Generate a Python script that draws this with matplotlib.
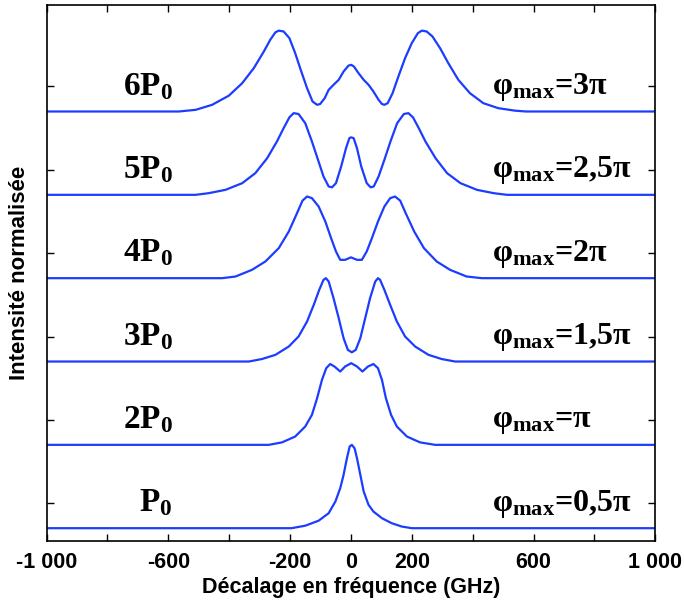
import matplotlib
matplotlib.use("Agg")
from matplotlib import pyplot as plt

plt.rcParams['mathtext.default'] = 'regular'

# frequency shift (GHz) and normalised intensity
p1_x = [-1000, -195, -150, -106, -73, -51, -35, -24, -13, -4, 3, 12, 20, 31, 42, 58, 74, 102, 134, 167, 200, 1000]
p1_y = [0, 0, 0.03, 0.09, 0.18, 0.32, 0.48, 0.64, 0.84, 0.98, 1.0, 0.96, 0.84, 0.64, 0.44, 0.28, 0.2, 0.12, 0.06, 0.02, 0, 0]

p2_x = [-1000, -270, -226, -183, -150, -128, -111, -95, -81, -68, -54, -35, -19, 1, 20, 38, 56, 74, 89, 102, 115, 132, 151, 184, 227, 277, 1000]
p2_y = [0, 0, 0.03, 0.1, 0.22, 0.36, 0.56, 0.78, 0.92, 0.97, 0.94, 0.88, 0.94, 0.98, 0.94, 0.88, 0.94, 0.97, 0.92, 0.78, 0.56, 0.36, 0.22, 0.1, 0.03, 0, 0]

p3_x = [-1000, -335, -292, -248, -204, -172, -144, -122, -104, -90, -82, -73, -57, -40, -24, -10, 3, 16, 31, 47, 63, 80, 89, 96, 110, 129, 151, 178, 211, 255, 298, 342, 1000]
p3_y = [0, 0, 0.03, 0.08, 0.18, 0.3, 0.48, 0.68, 0.86, 0.98, 1.0, 0.96, 0.76, 0.52, 0.28, 0.14, 0.11, 0.14, 0.28, 0.52, 0.76, 0.96, 1.0, 0.98, 0.86, 0.68, 0.48, 0.3, 0.18, 0.08, 0.03, 0, 0]

p4_x = [-1000, -423, -379, -325, -281, -237, -204, -177, -159, -144, -128, -106, -84, -65, -49, -35, -19, 0,
        20, 36, 52, 69, 89, 110, 129, 145, 162, 180, 208, 240, 282, 326, 380, 430, 1000]
p4_y = [0, 0, 0.02, 0.1, 0.2, 0.36, 0.56, 0.78, 0.93, 0.98, 0.96, 0.86, 0.68, 0.48, 0.32, 0.22, 0.22, 0.25,
        0.22, 0.22, 0.32, 0.48, 0.68, 0.86, 0.96, 0.98, 0.93, 0.78, 0.56, 0.36, 0.2, 0.1, 0.02, 0, 0]

p5_x = [-1000, -510, -467, -412, -357, -314, -275, -243, -221, -202, -188, -172, -150, -128, -108, -90, -73, -62, -49, -32, -16, -5, 0,
        9, 20, 34, 52, 65, 75, 91, 110, 130, 152, 174, 189, 204, 223, 245, 278, 316, 360, 414, 469, 513, 1000]
p5_y = [0, 0, 0.02, 0.06, 0.14, 0.26, 0.44, 0.64, 0.8, 0.93, 0.98, 0.97, 0.86, 0.64, 0.42, 0.22, 0.1, 0.09, 0.14, 0.34, 0.56, 0.68, 0.69,
        0.68, 0.56, 0.34, 0.14, 0.09, 0.1, 0.22, 0.42, 0.64, 0.86, 0.97, 0.98, 0.93, 0.8, 0.64, 0.44, 0.26, 0.14, 0.06, 0.02, 0, 0]

p6_x = [-1000, -565, -510, -456, -401, -357, -319, -286, -265, -248, -237, -221, -202, -183, -163, -144, -126, -111, -101, -86, -73,
        -57, -40, -24, -8, 1, 10, 25, 42, 58, 74, 91, 102, 110, 121, 137, 156, 178, 200, 220, 233, 249, 268, 293, 320, 353,
        391, 435, 484, 539, 575, 1000]
p6_y = [0, 0, 0.02, 0.08, 0.19, 0.34, 0.52, 0.72, 0.86, 0.95, 0.97, 0.96, 0.88, 0.70, 0.48, 0.28, 0.12, 0.08, 0.09, 0.16, 0.26,
        0.32, 0.38, 0.48, 0.55, 0.56, 0.54, 0.46, 0.38, 0.32, 0.24, 0.14, 0.09, 0.08, 0.1, 0.22, 0.42, 0.64, 0.82, 0.94, 0.97, 0.96,
        0.9, 0.76, 0.58, 0.38, 0.22, 0.1, 0.04, 0.01, 0, 0]

curves_x = [p1_x, p2_x, p3_x, p4_x, p5_x, p6_x]
curves_y = [p1_y, p2_y, p3_y, p4_y, p5_y, p6_y]
power_labels = ['P$_0$', '2P$_0$', '3P$_0$', '4P$_0$', '5P$_0$', '6P$_0$']
phase_labels = ['φ$_{max}$=0,5π', 'φ$_{max}$=π', 'φ$_{max}$=1,5π',
                'φ$_{max}$=2π', 'φ$_{max}$=2,5π', 'φ$_{max}$=3π']
xticks = [-1000, -800, -600, -400, -200, 0, 200, 400, 600, 800, 1000]
xtick_labels = ['-1 000', '', '-600', '', '-200', '0', '200', '', '600', '', '1 000']

fig = plt.figure(figsize=(6.84, 6.02), dpi=100)
ax = fig.add_axes([0.068, 0.101, 0.89, 0.891])

blue = '#1c3cff'
for k in range(6):
    ax.plot(curves_x[k], [v + k for v in curves_y[k]], color=blue, lw=1.6)
    ax.text(-585, k + 0.2, power_labels[k], ha='right', va='baseline',
            family='Liberation Serif', weight='bold', fontsize=24)
    ax.text(462, k + 0.21, phase_labels[k], ha='left', va='baseline',
            family='Liberation Serif', weight='bold', fontsize=23)

ax.set_xlim(-1000, 1000)
ax.set_ylim(-0.156, 6.28)
ax.set_xticks(xticks)
ax.set_xticklabels(xtick_labels, family='Liberation Sans', weight='bold', fontsize=15.5)
ax.set_yticks([k + 0.3 for k in range(6)])
ax.set_yticklabels([])
ax.tick_params(direction='in', top=True, right=True, length=5, width=1, pad=8)
for s in ax.spines.values():
    s.set_linewidth(1.2)

ax.set_xlabel('Décalage en fréquence (GHz)', family='Liberation Sans', weight='bold', fontsize=15.5, labelpad=3)
ax.set_ylabel('Intensité normalisée', family='Liberation Sans', weight='bold', fontsize=16, labelpad=4)

fig.savefig('out.png', dpi=100)
